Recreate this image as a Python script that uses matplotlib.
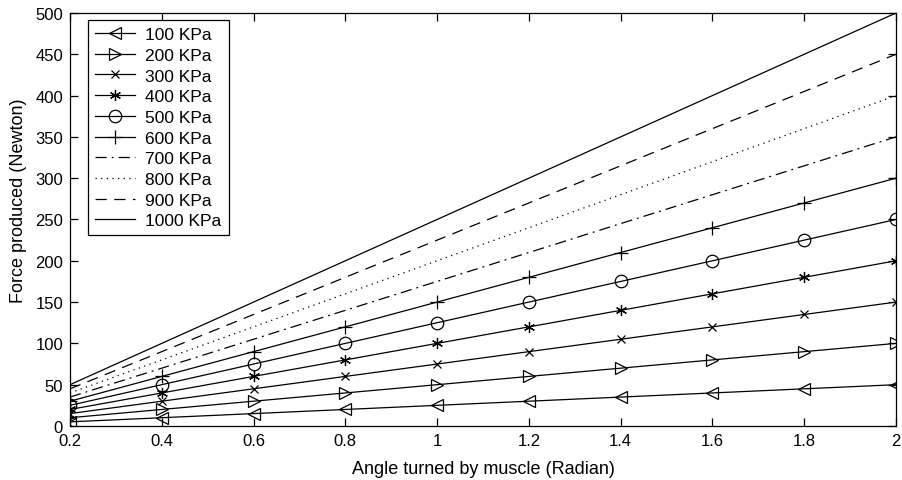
#!/usr/bin/env python3
import matplotlib
matplotlib.use("Agg")
import matplotlib.pyplot as plt

plt.rcParams["font.family"] = ["Liberation Sans", "DejaVu Sans"]
plt.rcParams["font.size"] = 12

angle = [0.2, 0.4, 0.6, 0.8, 1.0, 1.2, 1.4, 1.6, 1.8, 2.0]

labels = ["100 KPa", "200 KPa", "300 KPa", "400 KPa", "500 KPa",
          "600 KPa", "700 KPa", "800 KPa", "900 KPa", "1000 KPa"]

f100 = [5, 10, 15, 20, 25, 30, 35, 40, 45, 50]
f200 = [10, 20, 30, 40, 50, 60, 70, 80, 90, 100]
f300 = [15, 30, 45, 60, 75, 90, 105, 120, 135, 150]
f400 = [20, 40, 60, 80, 100, 120, 140, 160, 180, 200]
f500 = [25, 50, 75, 100, 125, 150, 175, 200, 225, 250]
f600 = [30, 60, 90, 120, 150, 180, 210, 240, 270, 300]
f700 = [35, 70, 105, 140, 175, 210, 245, 280, 315, 350]
f800 = [40, 80, 120, 160, 200, 240, 280, 320, 360, 400]
f900 = [45, 90, 135, 180, 225, 270, 315, 360, 405, 450]
f1000 = [50, 100, 150, 200, 250, 300, 350, 400, 450, 500]

series = [f100, f200, f300, f400, f500, f600, f700, f800, f900, f1000]
# MATLAB-ish marker set; '*' there is a plain asterisk
markers = ["<", ">", "x", (6, 2, 0), "o", "+", None, None, None, None]
msizes = [9, 9, 6, 8, 9, 10, 0, 0, 0, 0]
styles = ["-", "-", "-", "-", "-", "-",
          (0, (9, 4, 1.5, 4)), (0, (1, 3.5)), (0, (9, 6)), "-"]


def main(out_png="out.png"):
    fig = plt.figure(figsize=(9.03, 4.81), dpi=100)
    ax = fig.add_axes([0.0775, 0.1123, 0.9147, 0.8586])

    for y, lab, m, ms, ls in zip(series, labels, markers, msizes, styles):
        ax.plot(angle, y, color="black", linestyle=ls, linewidth=0.9,
                marker=m, markersize=ms, markerfacecolor="none",
                markeredgecolor="black", markeredgewidth=0.9, label=lab)

    ax.set_xlim(0.2, 2)
    ax.set_ylim(0, 500)
    ax.set_xticks([0.2, 0.4, 0.6, 0.8, 1, 1.2, 1.4, 1.6, 1.8, 2])
    ax.set_xticklabels(["0.2", "0.4", "0.6", "0.8", "1", "1.2", "1.4", "1.6", "1.8", "2"])
    ax.set_yticks(range(0, 501, 50))
    ax.tick_params(direction="in", top=True, right=True, length=6, width=0.9,
                   labelsize=12, pad=5)
    for s in ax.spines.values():
        s.set_linewidth(0.9)
    ax.set_xlabel("Angle turned by muscle (Radian)", fontsize=13, labelpad=9)
    ax.set_ylabel("Force produced (Newton)", fontsize=13)
    ax.yaxis.set_label_coords(-0.052, 0.547)

    leg = ax.legend(loc="upper left", fancybox=False, edgecolor="black",
                    framealpha=1, handlelength=2.3, handletextpad=0.6,
                    borderpad=0.4, labelspacing=0.32, borderaxespad=0,
                    fontsize=12.5, bbox_to_anchor=(0.022, 0.983))
    leg.get_frame().set_linewidth(0.9)

    fig.savefig(out_png, dpi=100)
    plt.close(fig)


if __name__ == "__main__":
    main()
